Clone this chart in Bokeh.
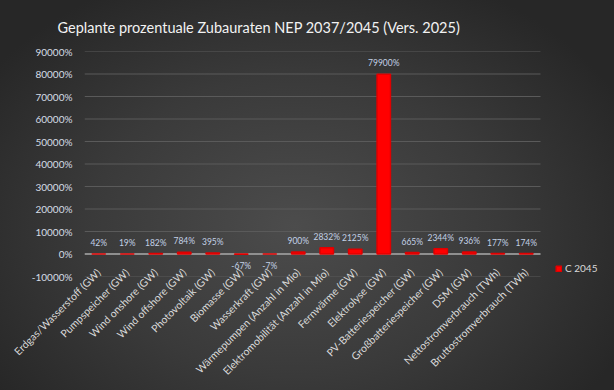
import math
from bokeh.plotting import figure
from bokeh.models import (ColumnDataSource, Range1d, Legend, LegendItem,
                          FixedTicker, CustomJSTickFormatter)
from bokeh.core.properties import value
from bokeh.embed import file_html
from bokeh.resources import INLINE

categories = [
    "Erdgas/Wasserstoff (GW)", "Pumpspeicher (GW)", "Wind onshore (GW)", "Wind offshore (GW)",
    "Photovoltaik (GW)", "Biomasse (GW)", "Wasserkraft (GW)", "Wärmepumpen (Anzahl in Mio)",
    "Elektromobilität (Anzahl in Mio)", "Fernwärme (GW)", "Elektrolyse (GW)",
    "PV-Batteriespeicher (GW)", "Großbatteriespeicher (GW)", "DSM (GW)",
    "Nettostromverbrauch (TWh)", "Bruttostromverbrauch (TWh)",
]
values_c2045 = [42, 19, 182, 784, 395, -67, -7, 900, 2832, 2125, 79900, 665, 2344, 936, 177, 174]
y_ticks = [-10000, 0, 10000, 20000, 30000, 40000, 50000, 60000, 70000, 80000, 90000]
series_name = "C 2045"
title_text = "Geplante  prozentuale  Zubauraten  NEP 2037/2045  (Vers. 2025)"

FONT = "Lato"
n = len(categories)
idx = list(range(n))

# plot area: categories take 456 px of a 530 px wide frame; the rest holds the legend
W, H = 614, 390
LEFT, TOP, BOTTOM = 84, 49, 114
cat_px = 456
frame_px = W - LEFT
x_end = -0.5 + n * frame_px / cat_px

p = figure(
    x_range=Range1d(-0.5, x_end),
    y_range=Range1d(y_ticks[0], y_ticks[-1]),
    width=W, height=H,
    output_backend="svg", toolbar_location=None,
    min_border_left=LEFT, min_border_right=0, min_border_top=TOP, min_border_bottom=BOTTOM,
    styles={"background": "radial-gradient(ellipse 60% 70% at 48% 58%, #4c4c4c 0%, #3a3a3a 55%, #272727 100%)"},
)
p.background_fill_alpha = 0
p.border_fill_alpha = 0
p.outline_line_color = None
p.xgrid.grid_line_color = None
p.ygrid.grid_line_color = None

# horizontal grid lines limited to the category span
p.segment(x0=-0.5, x1=n - 0.5, y0=y_ticks, y1=y_ticks, line_color="#5a5a5a", line_width=1)
p.segment(x0=-0.5, x1=n - 0.5, y0=0, y1=0, line_color="#a6a6a6", line_width=1.5)

src = ColumnDataSource(dict(x=idx, val=values_c2045))
bars = p.vbar(x="x", top="val", bottom=0, width=0.47, source=src,
              fill_color="#ff0000", line_color="#e00000", line_width=1.5)

pos = [i for i, v in enumerate(values_c2045) if v >= 0]
neg = [i for i, v in enumerate(values_c2045) if v < 0]
src_pos = ColumnDataSource(dict(x=pos, val=[values_c2045[i] for i in pos],
                                lbl=[f"{values_c2045[i]}%" for i in pos]))
src_neg = ColumnDataSource(dict(x=neg, val=[values_c2045[i] for i in neg],
                                lbl=[f"{values_c2045[i]}%" for i in neg]))
p.text(x="x", y="val", text="lbl", source=src_pos, text_align="center", text_baseline="bottom",
       y_offset=-6, text_font=value(FONT), text_font_size="8.5px", text_color="#c3d1e6")
p.text(x="x", y="val", text="lbl", source=src_neg, text_align="center", text_baseline="top",
       y_offset=7, text_font=value(FONT), text_font_size="8.5px", text_color="#c3d1e6")

p.yaxis.ticker = FixedTicker(ticks=y_ticks)
p.yaxis.formatter = CustomJSTickFormatter(code="return tick.toFixed(0) + '%';")
p.yaxis.axis_line_color = None
p.yaxis.major_tick_line_color = None
p.yaxis.minor_tick_line_color = None
p.yaxis.major_label_text_color = "#d6dde6"
p.yaxis.major_label_text_font = FONT
p.yaxis.major_label_text_font_size = "10px"
p.yaxis.major_label_standoff = 6

p.xaxis.ticker = FixedTicker(ticks=idx)
p.xaxis.formatter = CustomJSTickFormatter(args=dict(labels=categories),
                                          code="const i = Math.round(tick); return (i >= 0 && i < labels.length) ? labels[i] : '';")
p.xaxis.axis_line_color = None
p.xaxis.major_tick_line_color = None
p.xaxis.minor_tick_line_color = None
p.xaxis.major_label_orientation = math.pi / 4
p.xaxis.major_label_text_color = "#d9d9d9"
p.xaxis.major_label_text_font = FONT
p.xaxis.major_label_text_font_size = "10.5px"
p.xaxis.major_label_standoff = -12

legend = Legend(items=[LegendItem(label=series_name, renderers=[bars])],
                location=(471, 2), orientation="vertical",
                background_fill_alpha=0, border_line_color=None,
                label_text_color="#d9d9d9", label_text_font=FONT, label_text_font_size="10px",
                glyph_width=7, glyph_height=7, padding=2, spacing=0, label_standoff=3,
                label_height=12)
p.add_layout(legend, "center")

p.title.text = title_text
p.title.align = "left"
p.title.offset = -27
p.title.standoff = 32
p.title.text_font = FONT
p.title.text_font_size = "14.5px"
p.title.text_font_style = "normal"
p.title.text_color = "#f2f2f2"

html = file_html(p, INLINE)
html = html.replace("<head>", "<head><style>html,body{background:#272727;}</style>", 1)
open("out.html", "w").write(html)
